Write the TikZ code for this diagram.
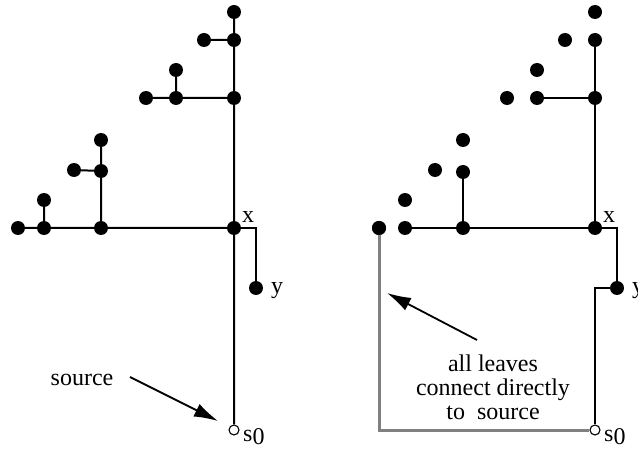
\documentclass[tikz,border=0pt]{standalone}
\usepackage{fontspec}
\setmainfont{Liberation Serif}
\usetikzlibrary{arrows.meta}
\begin{document}
\begin{tikzpicture}[x=1pt,y=-1pt,
  dot/.style={circle,fill=black,inner sep=0pt,minimum size=14pt},
  src/.style={circle,draw=black,fill=white,line width=1.1pt,inner sep=0pt,minimum size=10pt},
  edge/.style={line width=2pt},
  grayedge/.style={line width=3pt,draw={rgb,255:red,128;green,128;blue,128}},
  lbl/.style={inner sep=0pt,font=\fontsize{24}{24}\selectfont},
  pointer/.style={line width=1.8pt,-{Latex[length=24pt,width=14pt]}}]
\useasboundingbox (0,0) rectangle (638,449);
% ---------- left tree ----------
\node[dot] (a1) at (234,12) {};
\node[dot] (a2) at (234,40) {};
\node[dot] (a3) at (204,40) {};
\node[dot] (a4) at (234,98) {};
\node[dot] (a5) at (176,98) {};
\node[dot] (a6) at (176,70) {};
\node[dot] (a7) at (146,98) {};
\node[dot] (a8) at (101,140) {};
\node[dot] (a9) at (101,171) {};
\node[dot] (a10) at (74,170) {};
\node[dot] (ax) at (234,228) {};
\node[dot] (a12) at (101,228) {};
\node[dot] (a13) at (44,228) {};
\node[dot] (a14) at (44,200) {};
\node[dot] (a15) at (18,228) {};
\node[dot] (ay) at (256,288) {};
\node[src] (as) at (234,430) {};
\coordinate (acorner) at (256,228);
\draw[edge] (a1) -- (a2) (a2) -- (a3) (a2) -- (a4) (a4) -- (a5) (a5) -- (a6) (a5) -- (a7)
  (a4) -- (ax) (a8) -- (a9) (a9) -- (a10) (a9) -- (a12) (ax) -- (a12) (a12) -- (a13)
  (a13) -- (a14) (a13) -- (a15) (ax) -- (as);
\draw[edge] (ax.center) -- (acorner) -- (ay.center);
\node[lbl] (axl) at (248,217) {x};
\node[lbl] (ayl) at (277,291) {y};
\node[lbl,anchor=west] (asl) at (243,437) {s\raisebox{-0.35ex}{0}};
\node[lbl] (srct) at (82,380) {source};
\coordinate (srcA) at (130,377);
\coordinate (srcB) at (218,421);
\draw[pointer] (srcA) -- (srcB);
% ---------- right tree ----------
\node[dot] (b1) at (595,12) {};
\node[dot] (b2) at (595,40) {};
\node[dot] (b3) at (565,40) {};
\node[dot] (b4) at (595,98) {};
\node[dot] (b5) at (537,98) {};
\node[dot] (b6) at (537,70) {};
\node[dot] (b7) at (507,98) {};
\node[dot] (b8) at (463,140) {};
\node[dot] (b9) at (463,172) {};
\node[dot] (b10) at (435,170) {};
\node[dot] (bx) at (595,228) {};
\node[dot] (b12) at (463,228) {};
\node[dot] (b13) at (405,228) {};
\node[dot] (b14) at (405,200) {};
\node[dot] (b15) at (379,228) {};
\node[dot] (by) at (617,288) {};
\node[src] (bs) at (595,430) {};
\coordinate (bcorner) at (617,228);
\coordinate (bturn) at (595,288);
\coordinate (gcorner) at (379,430);
\draw[grayedge] (b15.center) -- (gcorner) -- (bs);
\draw[edge] (b2) -- (b4) (b4) -- (b5) (b4) -- (bx) (b9) -- (b12) (bx) -- (b12) (b12) -- (b13);
\draw[edge] (bx.center) -- (bcorner) -- (by.center);
\draw[edge] (by.center) -- (bturn) -- (bs);
\node[dot] at (b15) {};
\node[lbl] (bxl) at (609,217) {x};
\node[lbl,anchor=west] (byl) at (632,291) {y};
\node[lbl,anchor=west] (bsl) at (604,437) {s\raisebox{-0.35ex}{0}};
\node[lbl,align=center] (note) at (493,387) {all leaves\\connect directly\\to\ \ source};
\coordinate (noteA) at (477,340);
\coordinate (noteB) at (387,293);
\draw[pointer] (noteA) -- (noteB);
\end{tikzpicture}
\end{document}
